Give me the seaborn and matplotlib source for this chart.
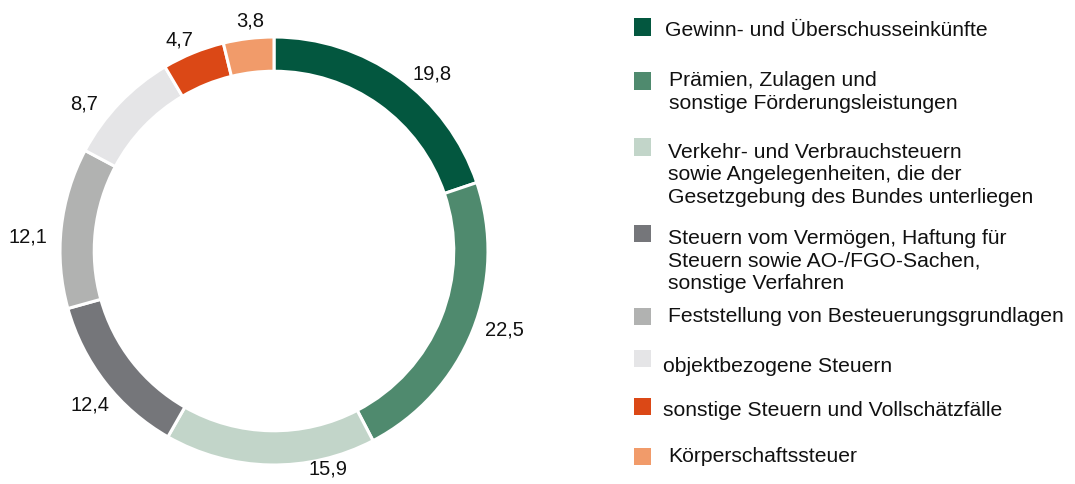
import numpy as np
import matplotlib
matplotlib.use("Agg")
import matplotlib.pyplot as plt
import seaborn as sns

categories = [
    "Gewinn- und Überschusseinkünfte",
    "Prämien, Zulagen und\nsonstige Förderungsleistungen",
    "Verkehr- und Verbrauchsteuern\nsowie Angelegenheiten, die der\nGesetzgebung des Bundes unterliegen",
    "Steuern vom Vermögen, Haftung für\nSteuern sowie AO-/FGO-Sachen,\nsonstige Verfahren",
    "Feststellung von Besteuerungsgrundlagen",
    "objektbezogene Steuern",
    "sonstige Steuern und Vollschätzfälle",
    "Körperschaftssteuer",
]
values = [19.8, 22.5, 15.9, 12.4, 12.1, 8.7, 4.7, 3.8]
value_labels = ["19,8", "22,5", "15,9", "12,4", "12,1", "8,7", "4,7", "3,8"]
colors = ["#03573F", "#4F8A6E", "#C2D5C9", "#75767A", "#B1B2B1",
          "#E5E5E7", "#DB4816", "#F19B6A"]

sns.set_theme(style="white")
plt.rcParams["font.family"] = ["Liberation Sans", "DejaVu Sans"]

W, H = 1075, 484
fig = plt.figure(figsize=(W / 100, H / 100), dpi=100)

# donut axes, placed in pixel units
cx, cy, R = 274, 251, 214
half = R * 1.25
ax = fig.add_axes([(cx - half) / W, (H - cy - half) / H, 2 * half / W, 2 * half / H])
wedges, _ = ax.pie(values, colors=colors, startangle=90, counterclock=False,
                   radius=1.0,
                   wedgeprops=dict(width=0.16, edgecolor="white", linewidth=2.2))
ax.set_xlim(-1.25, 1.25)
ax.set_ylim(-1.25, 1.25)
ax.set_aspect("equal")
ax.axis("off")

# value labels outside the ring
angle_nudge = [6, -3, -15, -2, -3, -6, -2, 1]   # small per-label shifts in degrees
dist = [1.11, 1.14, 1.05, 1.12, 1.15, 1.12, 1.08, 1.08]
for w, lab, dn, d in zip(wedges, value_labels, angle_nudge, dist):
    mid = np.deg2rad((w.theta1 + w.theta2) / 2 - dn)
    x, y = d * np.cos(mid), d * np.sin(mid)
    ax.text(x, y, lab, ha="center", va="center", fontsize=14.5, color="#111111",
            clip_on=False)

# legend (manual, to mimic the uneven spacing)
sq_y = [27, 81, 147, 233, 316, 358, 406, 456]
txt_y = [31, 92, 175, 261, 317, 366, 411, 457]
txt_x = [665, 669, 668, 668, 668, 663, 663, 668]
sq = 17
for c, lab, sy, ty, tx in zip(colors, categories, sq_y, txt_y, txt_x):
    fig.patches.append(plt.Rectangle(((634) / W, (H - sy - sq / 2) / H), sq / W, sq / H,
                                     transform=fig.transFigure, facecolor=c,
                                     edgecolor="none"))
    fig.text(tx / W, (H - ty) / H, lab, ha="left", va="center", fontsize=15.2,
             color="#111111", linespacing=1.26)

fig.savefig("out.png", dpi=100, facecolor="white")
